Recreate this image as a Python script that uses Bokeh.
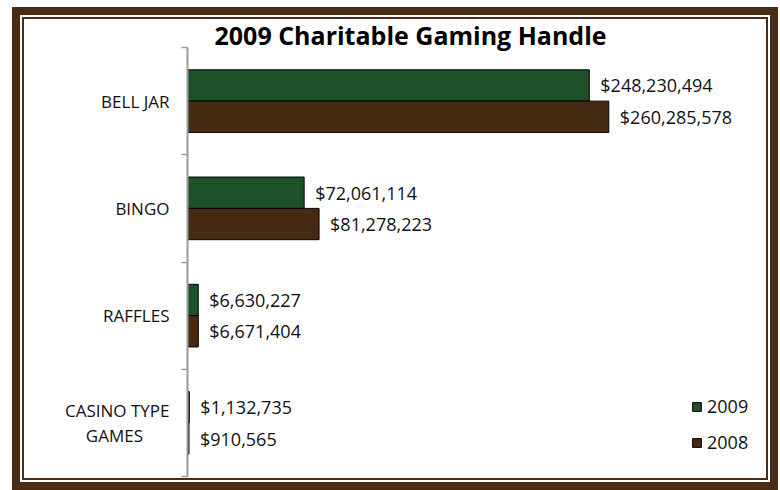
from bokeh.plotting import figure
from bokeh.models import Range1d, FixedTicker, ColumnDataSource
from bokeh.core.properties import value
from bokeh.transform import dodge
from bokeh.embed import file_html
from bokeh.resources import INLINE

# ---- data ----
categories = ["BELL JAR", "BINGO", "RAFFLES", "CASINO TYPE\nGAMES\u00a0\u00a0\u00a0\u00a0\u00a0\u00a0"]
values_2009 = [248230494, 72061114, 6630227, 1132735]
values_2008 = [260285578, 81278223, 6671404, 910565]
series_names = ["2009", "2008"]
title_text = "2009 Charitable Gaming Handle"

GREEN = "#1e5129"
BROWN = "#472a12"
FRAME = "#4a2c14"

n = len(categories)
ypos = [n - 0.5 - i for i in range(n)]

src = ColumnDataSource(dict(
    y=ypos,
    v09=values_2009,
    v08=values_2008,
    t09=[f"${v:,}" for v in values_2009],
    t08=[f"${v:,}" for v in values_2008],
))

p = figure(width=766, height=483, output_backend="svg", toolbar_location=None,
           x_range=Range1d(0, 354e6), y_range=Range1d(0, n),
           min_border_left=175, min_border_right=18, min_border_top=40,
           min_border_bottom=14)
p.margin = (7, 2, 0, 12)
p.styles = {"box-shadow": f"inset 0 0 0 8px {FRAME}, inset 0 0 0 10px #ffffff, inset 0 0 0 12px {FRAME}",
            "background-color": "#ffffff"}
p.outline_line_color = None
p.background_fill_color = "white"
p.border_fill_color = None
p.xaxis.visible = False
p.xgrid.visible = False
p.ygrid.visible = False

off = 0.146
h = 0.292
p.hbar(y=dodge("y", off, range=p.y_range), right="v09", left=0, height=h,
       source=src, fill_color=GREEN, line_color="black", line_width=1,
       legend_label=series_names[0])
p.hbar(y=dodge("y", -off, range=p.y_range), right="v08", left=0, height=h,
       source=src, fill_color=BROWN, line_color="black", line_width=1,
       legend_label=series_names[1])

for col, txt, d in (("v09", "t09", off), ("v08", "t08", -off)):
    p.text(x=col, y=dodge("y", d, range=p.y_range), text=txt, source=src,
           x_offset=11, text_baseline="middle", text_align="left",
           text_font=value("Open Sans"), text_font_size="18px", text_color="#111111")

yax = p.yaxis[0]
yax.ticker = FixedTicker(ticks=ypos, minor_ticks=list(range(n + 1)))
yax.major_label_overrides = {y: c for y, c in zip(ypos, categories)}
yax.major_tick_line_color = None
yax.major_tick_out = 0
yax.major_tick_in = 0
yax.minor_tick_line_color = "#9a9a9a"
yax.minor_tick_out = 6
yax.minor_tick_in = 0
yax.minor_tick_line_width = 1.5
yax.axis_line_color = "#9a9a9a"
yax.axis_line_width = 2
yax.major_label_standoff = 12
yax.major_label_text_font = "Open Sans"
yax.major_label_text_font_size = "17px"
yax.major_label_text_color = "#111111"
yax.major_label_text_line_height = 1.1

p.title.text = title_text
p.title.text_font = "Open Sans"
p.title.text_font_style = "bold"
p.title.text_font_size = "25px"
p.title.text_color = "black"
p.title.align = "left"
p.title.offset = 27
try:
    p.title.standoff = -8
except Exception:
    p.title.standoff = 0

lg = p.legend[0]
lg.location = (504, 22)
lg.padding = 0
lg.margin = 0
lg.spacing = 12
lg.border_line_color = None
lg.background_fill_alpha = 0
lg.glyph_width = 11
lg.glyph_height = 11
lg.label_height = 23
lg.label_standoff = 5
lg.label_text_font = "Open Sans"
lg.label_text_font_size = "18px"
lg.label_text_color = "#111111"

open("out.html", "w").write(file_html(p, INLINE))
